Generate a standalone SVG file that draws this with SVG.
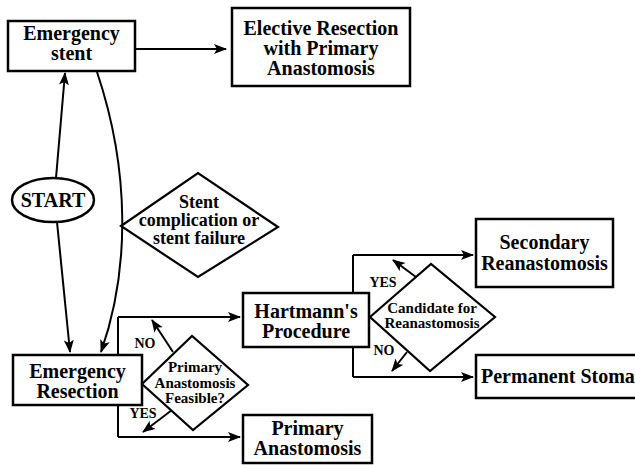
<svg xmlns="http://www.w3.org/2000/svg" width="635" height="465" viewBox="0 0 635 465">
<defs>
<marker id="ah" markerUnits="userSpaceOnUse" markerWidth="14" markerHeight="12" refX="12" refY="5" orient="auto">
<path d="M0,0 L13,5 L0,10 L3,5 z" fill="#000" stroke="none"/>
</marker>
</defs>
<rect width="635" height="465" fill="#fff"/>
<g font-family="Liberation Serif, serif" font-weight="bold" text-anchor="middle">
<g id="connectors">
<g fill="none" stroke="#000" stroke-width="2">
<path d="M118,317 L118,437"/>
<path d="M353,255 L353,377"/>
<g marker-end="url(#ah)">
<line x1="135" y1="49" x2="226" y2="49"/>
<line x1="56" y1="178" x2="65" y2="73"/>
<line x1="57" y1="222" x2="70" y2="352"/>
<path d="M97,72 C130,170 130,270 101,352"/>
<line x1="118" y1="317" x2="240" y2="317"/>
<line x1="118" y1="437" x2="240" y2="437"/>
<line x1="173" y1="352" x2="152" y2="320"/>
<line x1="172" y1="410" x2="143" y2="432"/>
<line x1="353" y1="255" x2="473" y2="255"/>
<line x1="353" y1="377" x2="473" y2="377"/>
<line x1="416" y1="277" x2="393" y2="260"/>
<line x1="407" y1="352" x2="392" y2="371"/>
</g>
</g>
<g font-size="14" fill="#000">
<text x="145" y="348">NO</text>
<text x="143" y="418">YES</text>
<text x="383" y="287">YES</text>
<text x="384" y="355">NO</text>
</g>
</g>
<g id="emergency-stent" font-size="20">
<rect x="8" y="21" width="127" height="50" fill="#fff" stroke="#000" stroke-width="2.5"/>
<text x="71.5" y="40">Emergency</text>
<text x="71.5" y="60">stent</text>
</g>
<g id="elective-resection" font-size="20">
<rect x="232" y="8" width="178" height="78" fill="#fff" stroke="#000" stroke-width="2.5"/>
<text x="321" y="35">Elective Resection</text>
<text x="321" y="55">with Primary</text>
<text x="321" y="75">Anastomosis</text>
</g>
<g id="start" font-size="20">
<ellipse cx="53" cy="200" rx="41" ry="22" fill="#fff" stroke="#000" stroke-width="2.5"/>
<text x="53" y="207">START</text>
</g>
<g id="stent-complication" font-size="18">
<polygon points="121,226 198,173 278,227 198,277" fill="#fff" stroke="#000" stroke-width="2.2"/>
<text x="199" y="208">Stent</text>
<text x="199" y="226">complication or</text>
<text x="199" y="244">stent failure</text>
</g>
<g id="emergency-resection" font-size="20">
<rect x="13" y="355" width="129" height="50" fill="#fff" stroke="#000" stroke-width="2.5"/>
<text x="77.5" y="378">Emergency</text>
<text x="77.5" y="398">Resection</text>
</g>
<g id="primary-feasible" font-size="15">
<polygon points="142,384 192,336 248,385 193,430" fill="#fff" stroke="#000" stroke-width="2.2"/>
<text x="195" y="372">Primary</text>
<text x="195" y="388">Anastomosis</text>
<text x="195" y="403">Feasible?</text>
</g>
<g id="hartmann" font-size="20">
<rect x="243" y="293" width="126" height="54" fill="#fff" stroke="#000" stroke-width="2.5"/>
<text x="306" y="318">Hartmann's</text>
<text x="306" y="338">Procedure</text>
</g>
<g id="primary-anastomosis" font-size="20">
<rect x="243" y="415" width="129" height="48" fill="#fff" stroke="#000" stroke-width="2.5"/>
<text x="307.5" y="435">Primary</text>
<text x="307.5" y="455">Anastomosis</text>
</g>
<g id="candidate" font-size="15">
<polygon points="370,317 431,264 495,317 430,371" fill="#fff" stroke="#000" stroke-width="2.2"/>
<text x="432" y="313">Candidate for</text>
<text x="432" y="328">Reanastomosis</text>
</g>
<g id="secondary" font-size="20">
<rect x="476" y="219" width="137" height="68" fill="#fff" stroke="#000" stroke-width="2.5"/>
<text x="544.5" y="249">Secondary</text>
<text x="544.5" y="270">Reanastomosis</text>
</g>
<g id="permanent-stoma" font-size="20">
<rect x="476" y="355" width="170" height="43" fill="#fff" stroke="#000" stroke-width="2.5"/>
<text x="481" y="383" text-anchor="start">Permanent Stoma</text>
</g>
</g>
</svg>
